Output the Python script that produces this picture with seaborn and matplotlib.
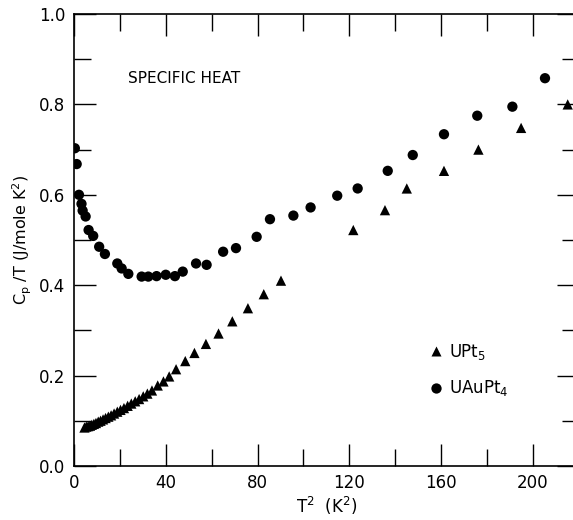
import matplotlib
matplotlib.use('Agg')
import matplotlib.pyplot as plt
import pandas as pd
import seaborn as sns
from matplotlib.ticker import MultipleLocator

# UPt5 (triangles)
upt5_t2 = [4.6, 5.4, 6.2, 7.0, 7.8, 8.7, 9.6, 10.6, 11.6, 12.7, 13.8, 15.0,
           16.2, 17.5, 18.9, 20.3, 21.8, 23.4, 25.0, 26.7, 28.4, 30.2, 32.0,
           34.0, 36.5, 39.0, 41.5, 44.5, 48.5, 52.5, 57.5, 63.0, 69.0, 75.8,
           82.7, 90.2, 121.7, 135.5, 145.0, 161.2, 176.2, 194.8, 215.1]
upt5_cp = [0.085, 0.087, 0.088, 0.089, 0.091, 0.093, 0.095, 0.098, 0.100,
           0.103, 0.106, 0.109, 0.112, 0.116, 0.120, 0.124, 0.128, 0.133,
           0.138, 0.143, 0.148, 0.154, 0.160, 0.167, 0.178, 0.187, 0.198,
           0.214, 0.232, 0.250, 0.270, 0.293, 0.320, 0.349, 0.380, 0.410,
           0.522, 0.566, 0.614, 0.653, 0.700, 0.748, 0.800]

# UAuPt4 (circles)
uaupt4_t2 = [0.4, 1.2, 2.2, 3.3, 3.8, 5.1, 6.4, 8.4, 11.0, 13.5, 18.9, 20.8,
             23.7, 29.5, 32.4, 36.0, 40.0, 44.0, 47.4, 53.2, 57.8, 65.0, 70.6,
             79.6, 85.4, 95.6, 103.1, 114.7, 123.6, 136.7, 147.6, 161.2,
             175.7, 191.0, 205.2]
uaupt4_cp = [0.703, 0.668, 0.600, 0.580, 0.565, 0.552, 0.522, 0.509, 0.485,
             0.469, 0.448, 0.437, 0.425, 0.419, 0.419, 0.420, 0.423, 0.420,
             0.430, 0.448, 0.445, 0.474, 0.482, 0.507, 0.546, 0.554, 0.572,
             0.598, 0.614, 0.653, 0.688, 0.734, 0.775, 0.795, 0.858]

labels = ['UPt$_5$', 'UAuPt$_4$']

df = pd.concat([
    pd.DataFrame({'t2': upt5_t2, 'cp': upt5_cp, 'sample': labels[0]}),
    pd.DataFrame({'t2': uaupt4_t2, 'cp': uaupt4_cp, 'sample': labels[1]}),
])

sns.set_style('ticks')
plt.rcParams['font.family'] = ['DejaVu Sans']
plt.rcParams['mathtext.fontset'] = 'dejavusans'
plt.rcParams['text.color'] = 'black'
plt.rcParams['axes.labelcolor'] = 'black'
plt.rcParams['xtick.color'] = 'black'
plt.rcParams['ytick.color'] = 'black'

fig = plt.figure(figsize=(5.73, 5.2), dpi=100)
# the right spine of the original is cropped off the page, so let it run past the edge
ax = fig.add_axes([0.129, 0.104, 0.881, 0.869])

sns.scatterplot(data=df, x='t2', y='cp', hue='sample', style='sample',
                markers={labels[0]: '^', labels[1]: 'o'},
                palette={labels[0]: 'black', labels[1]: 'black'},
                s=55, edgecolor='none', ax=ax)

ax.set_xlim(0, 219.9)
ax.set_ylim(0, 1.0)
ax.xaxis.set_major_locator(MultipleLocator(40))
ax.xaxis.set_minor_locator(MultipleLocator(20))
ax.yaxis.set_major_locator(MultipleLocator(0.2))
ax.yaxis.set_minor_locator(MultipleLocator(0.1))
ax.yaxis.set_major_formatter(lambda v, p: f'{v:.1f}')
ax.tick_params(which='both', direction='in', top=True, right=True,
               width=1.0, color='black', labelcolor='black', labelsize=12)
ax.tick_params(which='major', length=16, pad=6)
ax.tick_params(which='minor', length=12.5)
for sp in ax.spines.values():
    sp.set_linewidth(1.2)
    sp.set_color('black')

ax.set_xlabel(r'T$^2$  (K$^2$)', fontsize=12, labelpad=2)
ax.set_ylabel(r'C$_\mathregular{p}$ /T (J/mole K$^2$)', fontsize=11.5, labelpad=4)

ax.text(23.5, 0.858, 'SPECIFIC HEAT', fontsize=11, va='center', ha='left')

ax.legend(frameon=False, loc='upper left', bbox_to_anchor=(0.668, 0.308),
          fontsize=12, handletextpad=0.2, handlelength=1.2,
          labelspacing=1.0, markerscale=1.0)

fig.savefig('out.png', dpi=100)
